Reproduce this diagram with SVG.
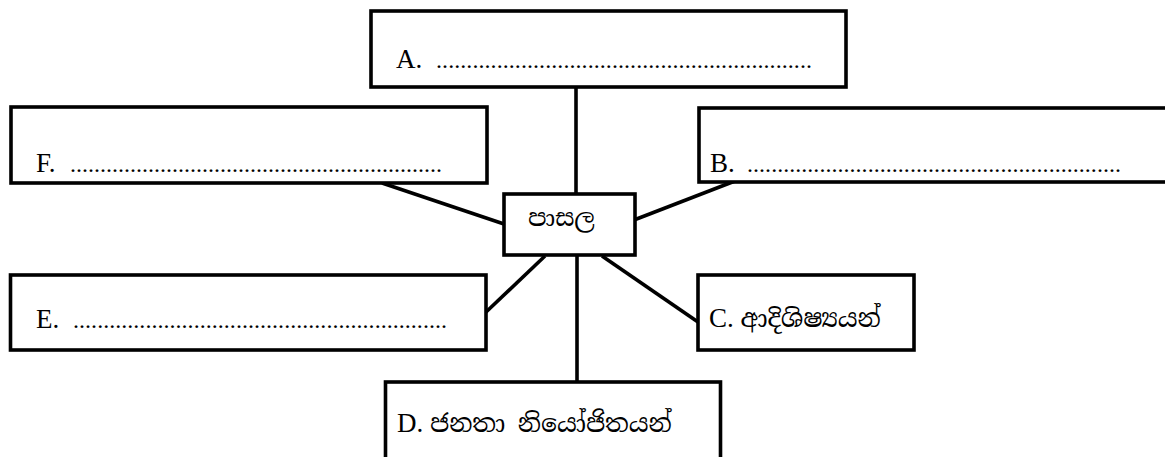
<svg xmlns="http://www.w3.org/2000/svg" width="1165" height="457" viewBox="0 0 1165 457">
<style>
.box{fill:#fff;stroke:#000;stroke-width:3.6}
.con{stroke:#000;stroke-width:3.6;fill:none;stroke-linecap:butt}
.lbl{font-family:"Liberation Serif","Noto Serif Sinhala","Noto Sans Sinhala","Iskoola Pota",serif;font-size:27px;fill:#000}
.dots{font-family:"Liberation Serif",serif;font-size:24px;fill:#000}
.si{font-family:"Noto Serif Sinhala","Noto Sans Sinhala","Iskoola Pota","Liberation Serif",serif;fill:#000}
</style>
<rect width="1165" height="457" fill="#fff"/>
<g id="connectors">
<line class="con" x1="576" y1="87" x2="576" y2="194"/>
<line class="con" x1="382" y1="183" x2="504" y2="224"/>
<line class="con" x1="634" y1="220" x2="735" y2="181"/>
<line class="con" x1="545" y1="256" x2="485" y2="313"/>
<line class="con" x1="577" y1="255" x2="577" y2="385"/>
<line class="con" x1="602" y1="256" x2="698" y2="322"/>
</g>
<g id="nodeA">
<rect class="box" x="371" y="11" width="475" height="76"/>
<text class="lbl" x="396" y="68">A.</text>
<text class="dots" x="436" y="68" textLength="376" lengthAdjust="spacing">..............................................................</text>
</g>
<g id="nodeF">
<rect class="box" x="11" y="107" width="476" height="76"/>
<text class="lbl" x="36" y="172">F.</text>
<text class="dots" x="70" y="172" textLength="372" lengthAdjust="spacing">..............................................................</text>
</g>
<g id="nodeB">
<rect class="box" x="699" y="108" width="480" height="74"/>
<text class="lbl" x="710" y="172">B.</text>
<text class="dots" x="747" y="172" textLength="374" lengthAdjust="spacing">..............................................................</text>
</g>
<g id="nodeCenter">
<rect class="box" x="504" y="194" width="131" height="61"/>
<text class="si" x="528" y="226" font-size="24">පාසල</text>
</g>
<g id="nodeE">
<rect class="box" x="10.5" y="275" width="475.5" height="75"/>
<text class="lbl" x="36" y="328">E.</text>
<text class="dots" x="73" y="328" textLength="374" lengthAdjust="spacing">..............................................................</text>
</g>
<g id="nodeC">
<rect class="box" x="698" y="275" width="216" height="75"/>
<text class="lbl" x="709" y="327">C. <tspan class="si" font-size="25">ආදිශිෂ්‍යයන්</tspan></text>
</g>
<g id="nodeD">
<rect class="box" x="385.5" y="382" width="335" height="80"/>
<text class="lbl" x="397" y="432">D. <tspan class="si" font-size="25">ජනතා නියෝජිතයන්</tspan></text>
</g>
</svg>
